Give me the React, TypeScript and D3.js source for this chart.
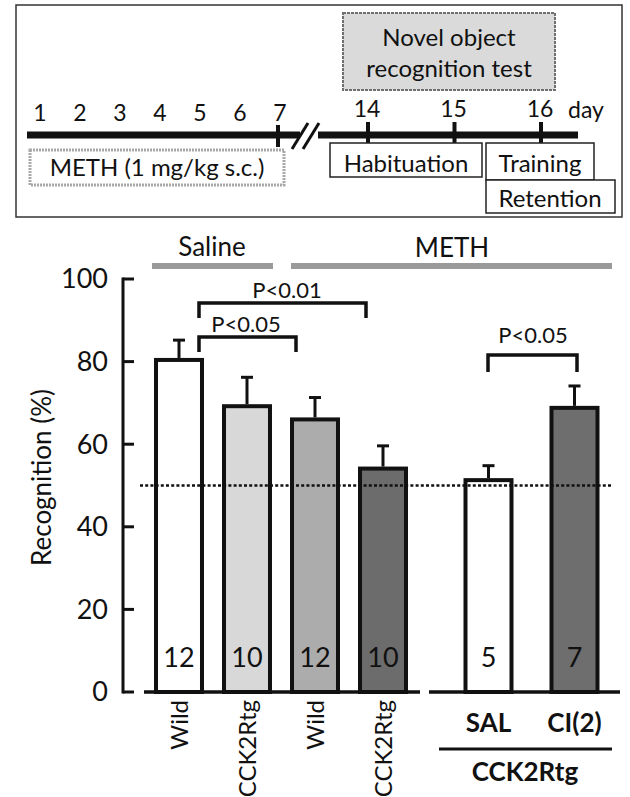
import React from "react";
import * as d3 from "d3";

// ---------- data ----------
const groupA = ["Wild-SAL", "CCK2Rtg-SAL", "Wild-METH", "CCK2Rtg-METH"];
const groupB = ["SAL", "CI(2)"];
const valuesA = [80.4, 69.2, 66.0, 54.1];
const errorsA = [4.8, 7.0, 5.3, 5.5];
const countsA = ["12", "10", "12", "10"];
const labelsA = ["Wild", "CCK2Rtg", "Wild", "CCK2Rtg"];
const valuesB = [51.3, 68.8];
const errorsB = [3.5, 5.3];
const countsB = ["5", "7"];
const labelsB = ["SAL", "CI(2)"];
const fillsA = ["#ffffff", "#d8d8d8", "#acacac", "#6c6c6c"];
const fillsB = ["#ffffff", "#6e6e6e"];
const yTicks = [0, 20, 40, 60, 80, 100];
const chanceLevel = 50;
const daysA = [1, 2, 3, 4, 5, 6, 7];
const daysB = [14, 15, 16];
const FONT = "Lato, 'Open Sans', sans-serif";

export default function App() {
  const y = d3.scaleLinear().domain([0, 100]).range([692, 279]);
  const xA = d3.scaleBand<string>().domain(groupA).range([145, 417]).paddingInner(0.265).paddingOuter(0.1325);
  const xB = d3.scaleBand<string>().domain(groupB).range([440, 623]).paddingInner(0.4186).paddingOuter(0.2733);
  const dA = d3.scaleLinear().domain([1, 7]).range([40, 280]);
  const dB = d3.scaleLinear().domain([14, 16]).range([367, 540]);

  const bars = [
    ...groupA.map((k, i) => ({ x: xA(k)!, w: xA.bandwidth(), v: valuesA[i], e: errorsA[i], n: countsA[i], fill: fillsA[i] })),
    ...groupB.map((k, i) => ({ x: xB(k)!, w: xB.bandwidth(), v: valuesB[i], e: errorsB[i], n: countsB[i], fill: fillsB[i] })),
  ];
  const sw = 4;
  const cx = (i: number) => bars[i].x + bars[i].w / 2;

  const bracket = (x1: number, x2: number, top: number, leg: number) =>
    `M${x1},${leg} L${x1},${top} L${x2},${top} L${x2},${leg}`;

  return (
    <svg width={630} height={797} style={{ display: "block", position: "absolute", left: 0, top: 0 }} fontFamily={FONT}>
      <rect width={630} height={797} fill="#fff" />

      {/* ---------- top panel ---------- */}
      <rect x={16} y={5} width={606} height={212} fill="none" stroke="#333" strokeWidth={1.5} />
      <rect x={343} y={13} width={212} height={77} fill="#dadada" stroke="#6f6f6f" strokeWidth={2} strokeDasharray="3 1" />
      <text x={449} y={46} textAnchor="middle" fontSize={24} fill="#111">Novel object</text>
      <text x={449} y={77} textAnchor="middle" fontSize={24} fill="#111">recognition test</text>

      {daysA.map((d) => (
        <text key={d} x={dA(d)} y={121} textAnchor="middle" fontSize={23} fill="#111">{d}</text>
      ))}
      {daysB.map((d) => (
        <text key={d} x={dB(d)} y={117} textAnchor="middle" fontSize={23} fill="#111">{d}</text>
      ))}
      <text x={586} y={118} textAnchor="middle" fontSize={23} fill="#111">day</text>

      <line x1={27} x2={300} y1={135} y2={135} stroke="#111" strokeWidth={7} />
      <line x1={318} x2={578} y1={135} y2={135} stroke="#111" strokeWidth={7} />
      <polygon points="294,150 310,123 318,123 302,150" fill="#fff" />
      <line x1={292} y1={149} x2={308} y2={123} stroke="#111" strokeWidth={3} />
      <line x1={303} y1={149} x2={319} y2={123} stroke="#111" strokeWidth={3} />
      <line x1={dA(7) - 2} x2={dA(7) - 2} y1={125} y2={147} stroke="#111" strokeWidth={4} />
      {daysB.map((d) => (
        <line key={d} x1={dB(d) + 1} x2={dB(d) + 1} y1={122} y2={143} stroke="#111" strokeWidth={4} />
      ))}

      <rect x={30} y={150} width={254} height={35} fill="#fff" stroke="#a8a8a8" strokeWidth={3} strokeDasharray="2 1" />
      <text x={157} y={176} textAnchor="middle" fontSize={24} fill="#111">METH (1 mg/kg s.c.)</text>
      <rect x={330} y={143} width={152} height={34} fill="#fff" stroke="#222" strokeWidth={1.5} />
      <text x={406} y={172} textAnchor="middle" fontSize={24} fill="#111">Habituation</text>
      <rect x={486} y={143} width={108} height={37} fill="#fff" stroke="#222" strokeWidth={1.5} />
      <text x={540} y={172} textAnchor="middle" fontSize={24} fill="#111">Training</text>
      <rect x={486} y={180} width={129} height={33} fill="#fff" stroke="#222" strokeWidth={1.5} />
      <text x={550} y={207} textAnchor="middle" fontSize={24} fill="#111">Retention</text>

      {/* ---------- group headers ---------- */}
      <text x={212} y={256} textAnchor="middle" fontSize={26} fill="#111">Saline</text>
      <rect x={152} y={263} width={121} height={6} fill="#9a9a9a" />
      <text x={452} y={257} textAnchor="middle" fontSize={26} fill="#111">METH</text>
      <rect x={291} y={263} width={321} height={6} fill="#9a9a9a" />

      {/* ---------- y axis ---------- */}
      <line x1={123} x2={123} y1={y(100) - 1.5} y2={y(0) + 1.5} stroke="#111" strokeWidth={3} />
      {yTicks.map((t) => (
        <g key={t}>
          <line x1={123} x2={134} y1={y(t)} y2={y(t)} stroke="#111" strokeWidth={3} />
          <text x={108} y={y(t)} dy="0.35em" textAnchor="end" fontSize={27} fill="#111">{t}</text>
        </g>
      ))}
      <text transform={`translate(51,${(y(0) + y(100)) / 2 - 8}) rotate(-90)`} textAnchor="middle" fontSize={26} fill="#111">Recognition (%)</text>

      {/* ---------- bars ---------- */}
      {bars.map((b, i) => (
        <g key={i}>
          <rect x={b.x + sw / 2} y={y(b.v)} width={b.w - sw} height={y(0) - y(b.v)} fill={b.fill} stroke="#111" strokeWidth={sw} />
          <line x1={cx(i)} x2={cx(i)} y1={y(b.v) - sw / 2} y2={y(b.v + b.e)} stroke="#111" strokeWidth={3} />
          <line x1={cx(i) - 6} x2={cx(i) + 6} y1={y(b.v + b.e)} y2={y(b.v + b.e)} stroke="#111" strokeWidth={3} />
          <text x={cx(i)} y={667} textAnchor="middle" fontSize={27} fill="#111">{b.n}</text>
        </g>
      ))}

      {/* baselines */}
      <line x1={144} x2={420} y1={y(0)} y2={y(0)} stroke="#111" strokeWidth={3.5} />
      <line x1={429} x2={620} y1={y(0)} y2={y(0)} stroke="#111" strokeWidth={3.5} />

      {/* chance line */}
      <line x1={140} x2={613} y1={y(chanceLevel)} y2={y(chanceLevel)} stroke="#111" strokeWidth={2.5} strokeDasharray="3 2.2" />

      {/* significance brackets */}
      <path d={bracket(199, 366, 303, 318)} fill="none" stroke="#111" strokeWidth={3.5} />
      <text x={287} y={298} textAnchor="middle" fontSize={22} fill="#111">P&lt;0.01</text>
      <path d={bracket(199, 296, 337, 352)} fill="none" stroke="#111" strokeWidth={3.5} />
      <text x={246} y={332} textAnchor="middle" fontSize={22} fill="#111">P&lt;0.05</text>
      <path d={bracket(488, 577, 355, 372)} fill="none" stroke="#111" strokeWidth={3.5} />
      <text x={533} y={343} textAnchor="middle" fontSize={22} fill="#111">P&lt;0.05</text>

      {/* x labels */}
      {labelsA.map((l, i) => (
        <text key={i} transform={`translate(${cx(i)},700) rotate(-90)`} dy="0.36em" textAnchor="end" fontSize={24} fill="#111">{l}</text>
      ))}
      {labelsB.map((l, i) => (
        <text key={l} x={cx(4 + i)} y={732} textAnchor="middle" fontSize={26} fontWeight="bold" fill="#111">{l}</text>
      ))}
      <line x1={439} x2={612} y1={749} y2={749} stroke="#111" strokeWidth={3} />
      <text x={525} y={781} textAnchor="middle" fontSize={26} fontWeight="bold" fill="#111">CCK2Rtg</text>
    </svg>
  );
}
